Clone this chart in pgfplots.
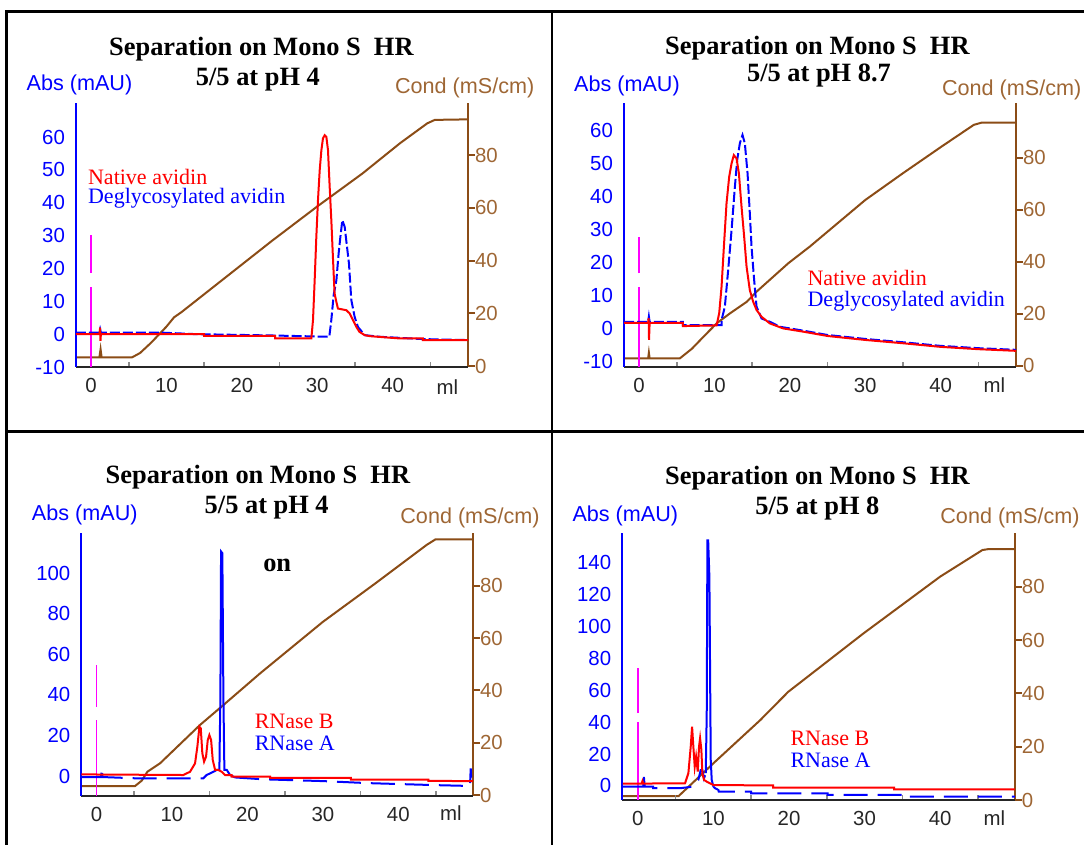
\documentclass[border=0pt]{standalone}
\usepackage{fontspec}
\setmainfont{Liberation Serif}
\setsansfont{Liberation Sans}
\usepackage{pgfplots}
\pgfplotsset{compat=1.18}

\definecolor{absblue}{RGB}{0,0,255}
\definecolor{natred}{RGB}{255,0,0}
\definecolor{condline}{RGB}{139,76,22}
\definecolor{condtext}{RGB}{158,102,52}
\definecolor{inj}{RGB}{255,0,255}

\pgfplotsset{
  absaxis/.style={
    scale only axis, clip=true,
    xmin=-2, xmax=50,
    axis x line*=bottom, axis y line*=left,
    x axis line style={-, draw=black!85, line width=1pt},
    y axis line style={-, draw=absblue, line width=1pt},
    xtick={0,10,20,30,40},
    minor xtick={5,15,25,35,45},
    major tick length=0pt, minor tick length=2.5pt,
    minor tick style={draw=black!45, line width=0.8pt},
    ticklabel style={font=\sffamily\fontsize{10.2}{12}\selectfont},
    /pgf/number format/assume math mode=true,
    xticklabel style={black!85, yshift=-2pt},
    yticklabel style={absblue, xshift=-2pt},
  },
  condaxis/.style={
    scale only axis, clip=true,
    xmin=-2, xmax=50,
    axis x line=none, axis y line*=right,
    y axis line style={-, draw=condline, line width=1pt},
    ytick={0,20,40,60,80}, xtick=\empty,
    tick align=outside, major tick length=3.5pt,
    tick style={draw=condline, line width=1pt},
    ticklabel style={font=\sffamily\fontsize{10.2}{12}\selectfont, condtext},
    yticklabel style={xshift=-3.5pt},
    /pgf/number format/assume math mode=true,
  },
  condcurve/.style={condline, line width=1pt, no marks},
  redcurve/.style={natred, line width=1pt, no marks},
  bluecurve/.style={absblue, line width=1pt, no marks},
  bluedashA/.style={absblue, line width=1pt, no marks, dash pattern=on 5pt off 1.5pt},
  bluedashB/.style={absblue, line width=1pt, no marks, dash pattern=on 12pt off 5pt},
  injline/.style={inj, line width=0.8pt, no marks},
}

\tikzset{
  ttl/.style={font=\bfseries\fontsize{13.2}{15}\selectfont, inner sep=0pt},
  leg/.style={font=\fontsize{11}{13}\selectfont, anchor=west, inner sep=0pt},
  alab/.style={font=\sffamily\fontsize{10.8}{13}\selectfont, anchor=west, inner sep=0pt},
  ml/.style={font=\sffamily\fontsize{10.2}{12}\selectfont, black!85, inner sep=0pt},
}

\begin{document}
\begin{tikzpicture}
\useasboundingbox (0,0) rectangle (542pt,-422.5pt);

% ---------------- panel 1: avidin, pH 4 ----------------
\begin{axis}[condaxis, at={(38pt,-183.5pt)}, anchor=south west,
  width=196pt, height=132pt, ymin=-0.3, ymax=99.7]
\addplot[condcurve] coordinates {
  (-2,3.3) (1.1,3.3) (1.26,6.4) (1.4,3.3) (5.4,3.3) (6.5,5) (8,9) (9,12)
  (10,15) (11,18.5) (12,20.5) (14,25) (18,34) (24,47.5) (30,60.5) (36,73)
  (41,84.5) (44.6,92) (45.6,93.3) (50,93.5)};
\end{axis}
\begin{axis}[absaxis, at={(38pt,-183.5pt)}, anchor=south west,
  width=196pt, height=132pt, ymin=-10, ymax=70.4, ytick={-10,0,...,60}]
\addplot[injline] coordinates {(0,-10) (0,14.3)};
\addplot[injline] coordinates {(0,18.6) (0,30.1)};
\addplot[bluedashA] coordinates {
  (-2,0.5) (1.1,0.5) (1.2,1.5) (1.3,0.5) (9,0.5) (14,0) (24,-0.4) (31.6,-0.8)
  (31.87,4.3) (32.18,11.9) (32.54,16.4) (32.84,24.6) (33.07,29.6) (33.33,34.7)
  (33.64,32.7) (33.95,26.6) (34.21,21.5) (34.52,10.4) (34.96,5.3) (35.4,2.2)
  (36.3,-0.3) (38.3,-0.8) (44,-1.5) (50,-1.8)};
\addplot[redcurve] coordinates {
  (-2,0) (1.1,0) (1.2,2) (1.25,-2) (1.3,0) (15,0) (15,-0.5) (24.4,-0.5)
  (24.4,-1.3) (29.22,-1.3) (29.44,4.3) (29.66,16.4) (29.88,29.6) (30.1,40.8)
  (30.33,50) (30.55,56) (30.76,59.6) (30.99,60.6) (31.21,60.1) (31.43,56)
  (31.65,44.9) (31.87,34.7) (32.1,22.5) (32.3,12.4) (32.54,9.8) (32.75,7.8)
  (33.86,7.3) (34.3,6.3) (34.74,4.3) (35.19,2.2) (35.6,0.7) (36.3,-0.3)
  (36.95,-0.6) (40.9,-1.3) (44,-1.3) (44,-1.8) (50,-1.8)};
\end{axis}

% ---------------- panel 2: avidin, pH 8.7 ----------------
\begin{axis}[condaxis, at={(312pt,-183.5pt)}, anchor=south west,
  width=196pt, height=132pt, ymin=-0.5, ymax=101]
\addplot[condcurve] coordinates {
  (-2,2.8) (1.2,2.8) (1.3,5) (1.4,2.8) (5.4,2.8) (7,6.5) (8.5,11) (10.3,16.3)
  (12,20) (14.3,24.6) (15.6,28.5) (19.8,39.4) (22.65,45.8) (30,63.7) (35,74)
  (40.1,84.2) (44.4,92.6) (45.5,93.5) (50,93.5)};
\end{axis}
\begin{axis}[absaxis, at={(312pt,-183.5pt)}, anchor=south west,
  width=196pt, height=132pt, ymin=-11.8, ymax=68.2, ytick={-10,0,...,60}]
\addplot[injline] coordinates {(0,-11.8) (0,12.5)};
\addplot[injline] coordinates {(0,16.6) (0,27.7)};
\addplot[bluedashA] coordinates {
  (-2,1.9) (1.2,1.9) (1.3,3.5) (1.4,1.9) (5.8,1.9) (5.8,0.9) (10.94,0.9)
  (10.94,2.4) (11.38,6.5) (11.82,17.6) (12.27,29.7) (12.71,42.8) (13.01,50.9)
  (13.37,56) (13.72,58.5) (14.03,56) (14.39,46.9) (14.69,34.8) (14.92,24.6)
  (15.23,15.5) (15.58,6.5) (16.25,2.9) (17.35,1.9) (18.67,0.4) (21.8,-0.8)
  (25,-2.1) (30,-3.3) (35,-4.3) (40,-5.4) (45,-6.1) (50,-6.6)};
\addplot[redcurve] coordinates {
  (-2,1.6) (1.2,1.6) (1.27,3) (1.32,-3.6) (1.4,1.6) (5.8,1.6) (5.8,0.6)
  (10.28,0.8) (10.63,4.5) (10.94,12.5) (11.25,24.6) (11.6,37.8) (11.95,45.8)
  (12.27,49.9) (12.57,52.4) (12.93,51.4) (13.24,46.9) (13.59,36.8) (13.94,27.7)
  (14.26,18.6) (14.69,11.5) (15.13,8) (15.58,5.5) (16.25,3.4) (17.35,1.4)
  (19.1,-0.1) (21.8,-1.1) (25,-2.4) (30,-3.6) (35,-4.6) (40,-5.7) (45,-6.4)
  (50,-6.9)};
\end{axis}

% ---------------- panel 3: RNase, pH 4 ----------------
\begin{axis}[condaxis, at={(40.7pt,-397.85pt)}, anchor=south west,
  width=195.8pt, height=131.5pt, xmax=49.9, ymin=-0.27, ymax=100.3]
\addplot[condcurve] coordinates {
  (-2,3.4) (5.1,3.4) (6,5.5) (6.75,8.9) (8.42,12.1) (13.73,26.8) (16.82,34.4)
  (21.68,46.5) (30,66.2) (37,81) (43.74,95.6) (44.9,97.7) (50,97.7)};
\end{axis}
\begin{axis}[absaxis, at={(40.7pt,-397.85pt)}, anchor=south west,
  width=195.8pt, height=131.5pt, xmax=49.9, ymin=-9.7, ymax=120,
  ytick={0,20,...,100}]
\addplot[injline] coordinates {(0,-9.7) (0,27.6)};
\addplot[injline] coordinates {(0,34.2) (0,54.8)};
\addplot[bluedashB] coordinates {
  (-2,-0.5) (0.6,-0.5) (0.7,4) (0.8,-0.5) (5,-1.1) (14.17,-1.1) (14.6,0.5)
  (15.05,1.3) (15.49,2.1) (15.94,3) (16.29,3)};
\addplot[bluecurve] coordinates {
  (16.29,3) (16.34,17.8) (16.42,37.5) (16.51,110.7) (16.68,109.9) (16.82,39.1)
  (16.95,3) (17.27,3) (17.7,0.5) (18.37,-0.7)};
\addplot[bluedashB] coordinates {
  (18.37,-0.7) (22,-1.6) (30,-2.5) (36,-3.5) (45,-4.5) (49.5,-4.9) (49.6,3.8)
  (49.7,-4.9) (49.9,-4.9)};
\addplot[redcurve] coordinates {
  (-2,0.8) (11.5,0.5) (12.4,2.1) (13.06,6.2) (13.37,14.5) (13.64,24.3)
  (13.82,23.5) (14.03,11.2) (14.26,7.1) (14.52,9.5) (14.75,17.8) (14.96,20.2)
  (15.19,17.8) (15.41,7.9) (15.72,3) (16.15,3) (16.6,2.1) (17.04,0.5)
  (17.9,0.5) (17.9,-0.3) (23,-0.3) (23,-0.9) (33.7,-0.9) (33.7,-1.8)
  (44,-1.8) (44,-2.4) (50,-2.5)};
\end{axis}

% ---------------- panel 4: RNase, pH 8 ----------------
\begin{axis}[condaxis, at={(311.1pt,-400pt)}, anchor=south west,
  width=196.35pt, height=133.65pt, xmin=-2.08, xmax=49.9, ymin=0, ymax=100.3]
\addplot[condcurve] coordinates {
  (-2,1.5) (5.4,1.5) (10,13.8) (16.2,30) (19.9,40.6) (29.85,62.5) (40,83.8)
  (45.6,93.8) (46.3,94.1) (50,94.1)};
\end{axis}
\begin{axis}[absaxis, at={(311.1pt,-400pt)}, anchor=south west,
  width=196.35pt, height=133.65pt, xmin=-2.08, xmax=49.9, ymin=-8.8, ymax=158.8,
  ytick={0,20,...,140}]
\addplot[injline] coordinates {(0,-8.8) (0,40.3)};
\addplot[injline] coordinates {(0,45.6) (0,73.8)};
\addplot[bluedashB] coordinates {
  (-2,-0.4) (0.7,-0.4) (0.77,6.9) (0.9,-0.4) (2,-0.4) (2,-1.4) (5.58,-1.4)
  (7.34,-0.4) (8,3.8) (8.31,10) (8.53,10) (8.75,4.8) (8.98,8)};
\addplot[bluecurve] coordinates {
  (8.98,8) (9.11,45.6) (9.2,154) (9.3,154) (9.46,131.2) (9.64,16.3)
  (9.77,3.8) (9.99,-0.4)};
\addplot[bluedashB] coordinates {
  (9.99,-0.4) (10.21,-1.4) (10.65,-2.5) (10.7,-3.6) (15,-3.6) (15,-4.6)
  (25.1,-4.6) (25.1,-5.6) (35.7,-5.6) (35.7,-6.7) (50,-6.7)};
\addplot[redcurve] coordinates {
  (-2,1.5) (0.5,1.5) (0.6,3) (0.7,1.5) (6.24,1.7) (6.68,8) (6.99,24.6)
  (7.17,37.2) (7.34,24.6) (7.52,12.1) (7.7,18.4) (7.92,9) (8.09,24.6)
  (8.23,29.9) (8.4,22.6) (8.53,8) (8.75,3.8) (9.11,2.7) (9.99,0.6) (17.9,0.3)
  (17.9,-1) (33.9,-1) (33.9,-2.1) (50,-2.1)};
\end{axis}

% ---------------- texts and frame (pixel coordinates) ----------------
\begin{scope}[x=0.5pt, y=-0.5pt]
  \draw[line width=1.4pt, black] (1084,11.7) -- (6.7,11.7) -- (6.7,845);
  \draw[line width=1.4pt, black] (552,11.7) -- (552,845);
  \draw[line width=1.4pt, black] (6.7,431.7) -- (1084,431.7);

  % titles
  \node[ttl] at (261.4,49.3) {Separation on Mono S\ \ HR};
  \node[ttl] at (257.9,80) {5/5 at pH 4};
  \node[ttl] at (817.4,48.3) {Separation on Mono S\ \ HR};
  \node[ttl] at (819,76) {5/5 at pH 8.7};
  \node[ttl] at (257.9,476.7) {Separation on Mono S\ \ HR};
  \node[ttl] at (266.7,507.3) {5/5 at pH 4};
  \node[ttl] at (277.2,565) {on};
  \node[ttl] at (817.4,478.3) {Separation on Mono S\ \ HR};
  \node[ttl] at (817.4,508.3) {5/5 at pH 8};

  % axis titles
  \node[alab, absblue] at (26.3,85) {Abs (mAU)};
  \node[alab, condtext] at (394.7,88.3) {Cond (mS/cm)};
  \node[alab, absblue] at (573.8,86) {Abs (mAU)};
  \node[alab, condtext] at (941.7,90) {Cond (mS/cm)};
  \node[alab, absblue] at (31.6,515) {Abs (mAU)};
  \node[alab, condtext] at (400,518.3) {Cond (mS/cm)};
  \node[alab, absblue] at (572.1,516) {Abs (mAU)};
  \node[alab, condtext] at (940,518.3) {Cond (mS/cm)};

  % ml labels
  \node[ml] at (447.4,386.7) {ml};
  \node[ml] at (994.5,385) {ml};
  \node[ml] at (450.9,813.3) {ml};
  \node[ml] at (994.5,818.3) {ml};

  % legends
  \node[leg, natred] at (87.7,176.7) {Native avidin};
  \node[leg, absblue] at (87.7,198.3) {Deglycosylated avidin};
  \node[leg, natred] at (807.2,278.3) {Native avidin};
  \node[leg, absblue] at (807.2,301.7) {Deglycosylated avidin};
  \node[leg, natred] at (254.4,721.7) {RNase B};
  \node[leg, absblue] at (254.4,743.3) {RNase A};
  \node[leg, natred] at (790.1,738.3) {RNase B};
  \node[leg, absblue] at (790.1,760) {RNase A};
\end{scope}
\end{tikzpicture}
\end{document}
